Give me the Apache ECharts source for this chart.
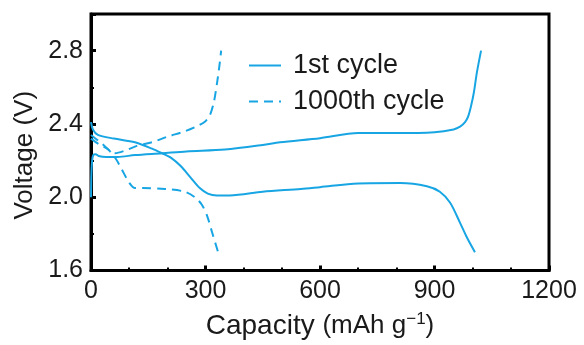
<!DOCTYPE html>
<html>
<head>
<meta charset="utf-8">
<script src="https://cdn.jsdelivr.net/npm/echarts@6/dist/echarts.min.js"></script>
<style>html,body{margin:0;padding:0;background:#fff;}#c{width:584px;height:345px;}</style>
</head>
<body>
<div id="c"></div>
<script>
// ---- data ----
var seriesNames = ['1st cycle', '1000th cycle'];
var xTicks = [0, 300, 600, 900, 1200];
var yTicks = [1.6, 2.0, 2.4, 2.8];

var cap1Charge  = [0, 1, 3, 6, 12, 20, 40, 70, 115, 186, 250, 351, 450, 495, 600, 700, 800, 900, 950, 967, 980, 988, 996, 1003, 1011, 1022];
var volt1Charge = [2.0, 2.12, 2.2, 2.23, 2.235, 2.225, 2.22, 2.22, 2.23, 2.24, 2.25, 2.26, 2.285, 2.30, 2.322, 2.35, 2.35, 2.355, 2.37, 2.385, 2.41, 2.44, 2.5, 2.57, 2.68, 2.80];

var cap1Dis  = [0, 5, 18, 60, 115, 160, 186, 210, 235, 260, 285, 306, 330, 364, 450, 550, 600, 700, 810, 880, 914, 941, 967, 985, 1006];
var volt1Dis = [2.41, 2.37, 2.34, 2.32, 2.30, 2.265, 2.24, 2.215, 2.17, 2.11, 2.05, 2.02, 2.01, 2.01, 2.03, 2.045, 2.055, 2.075, 2.077, 2.06, 2.03, 1.97, 1.86, 1.78, 1.70];

var cap1000Charge  = [0, 30, 63, 90, 120, 160, 200, 246, 280, 300, 312, 322, 330, 336, 341];
var volt1000Charge = [2.34, 2.29, 2.24, 2.255, 2.28, 2.30, 2.33, 2.36, 2.39, 2.415, 2.45, 2.52, 2.62, 2.71, 2.80];

var cap1000Dis  = [0, 20, 45, 65, 81, 100, 115, 136, 194, 246, 272, 290, 304, 317, 333];
var volt1000Dis = [2.32, 2.29, 2.26, 2.21, 2.15, 2.08, 2.05, 2.05, 2.045, 2.03, 2.0, 1.96, 1.90, 1.81, 1.70];

// ---- build ----
function zip(a, b) { var r = []; for (var i = 0; i < a.length; i++) r.push([a[i], b[i]]); return r; }
var COLOR = '#18a5e3';
var FONT = 'Liberation Sans, Arial, sans-serif';

function mk(name, data, dashed) {
  return {
    name: name, type: 'line', data: data, symbol: 'none', showSymbol: false, smooth: 0.3,
    lineStyle: { color: COLOR, width: 2, type: dashed ? [9, 6] : 'solid' },
    itemStyle: { color: COLOR }
  };
}

var chart = echarts.init(document.getElementById('c'), null, { renderer: 'canvas' });
chart.setOption({
  animation: false,
  backgroundColor: '#fff',
  grid: { left: 91, right: 35, top: 14, bottom: 74, show: true, borderColor: '#000', borderWidth: 3, containLabel: false },
  legend: {
    data: seriesNames, orient: 'vertical', left: 243, top: 47, itemWidth: 32, itemHeight: 14, itemGap: 9,
    itemStyle: { opacity: 0 },
    textStyle: { fontFamily: FONT, fontSize: 27, color: '#1a1a1a', padding: [0, 0, 0, 7] }
  },
  xAxis: {
    type: 'value', min: 0, max: 1200, interval: 300,
    name: 'Capacity {s|(mAh g}{sup|−1}{s|)}', nameLocation: 'middle', nameGap: 40,
    nameTextStyle: { fontFamily: FONT, fontSize: 28, color: '#1a1a1a',
      rich: { s: { fontFamily: FONT, fontSize: 26, color: '#1a1a1a' }, sup: { fontFamily: FONT, fontSize: 17, color: '#1a1a1a', verticalAlign: 'top', padding: [0, 0, 14, 0] } } },
    axisLine: { show: true, lineStyle: { color: '#000', width: 3 } },
    axisTick: { show: true, inside: true, length: 5, lineStyle: { color: '#000', width: 3 } },
    minorTick: { show: true, splitNumber: 3, length: 3, lineStyle: { color: '#000', width: 2 } },
    splitLine: { show: false },
    axisLabel: { fontFamily: FONT, fontSize: 25, color: '#1a1a1a', margin: 8,
      formatter: function (v) { return xTicks.indexOf(v) >= 0 ? String(v) : ''; } }
  },
  yAxis: {
    type: 'value', min: 1.6, max: 3.0, interval: 0.4,
    name: 'Voltage (V)', nameLocation: 'middle', nameGap: 52, nameRotate: 90,
    nameTextStyle: { fontFamily: FONT, fontSize: 26, color: '#1a1a1a', padding: [0, 26, 0, 0] },
    axisLine: { show: true, lineStyle: { color: '#000', width: 3 } },
    axisTick: { show: true, inside: true, length: 5, lineStyle: { color: '#000', width: 3 } },
    minorTick: { show: true, splitNumber: 2, length: 3, lineStyle: { color: '#000', width: 2 } },
    splitLine: { show: false },
    axisLabel: { fontFamily: FONT, fontSize: 25, color: '#1a1a1a', margin: 8, showMaxLabel: false,
      formatter: function (v) {
        for (var i = 0; i < yTicks.length; i++) if (Math.abs(yTicks[i] - v) < 1e-6) return yTicks[i].toFixed(1);
        return '';
      } }
  },
  series: [
    mk(seriesNames[0], zip(cap1Charge, volt1Charge), false),
    mk(seriesNames[0], zip(cap1Dis, volt1Dis), false),
    mk(seriesNames[1], zip(cap1000Charge, volt1000Charge), true),
    mk(seriesNames[1], zip(cap1000Dis, volt1000Dis), true)
  ]
});
</script>
</body>
</html>
